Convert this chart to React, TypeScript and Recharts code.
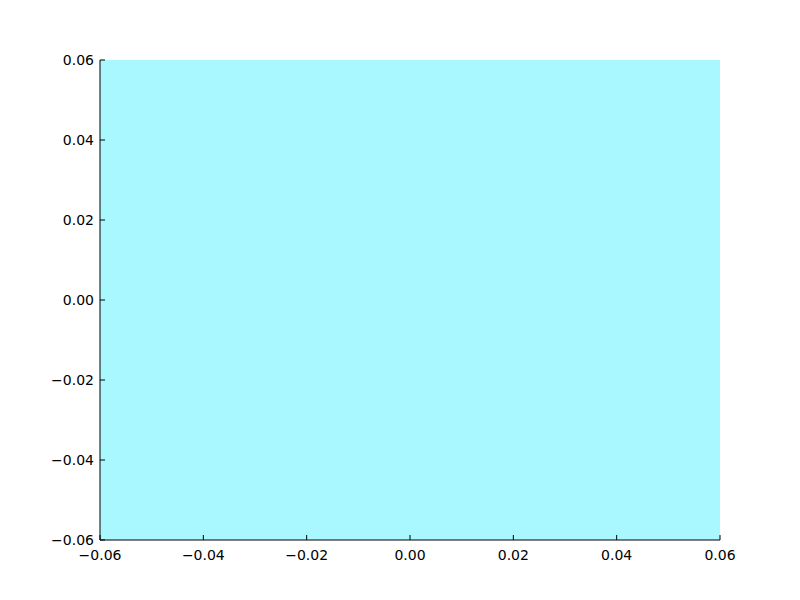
import React from "react";
import {
  ScatterChart,
  Scatter,
  XAxis,
  YAxis,
  ReferenceArea,
} from "recharts";

const xTicks = [-0.06, -0.04, -0.02, 0, 0.02, 0.04, 0.06];
const yTicks = [-0.06, -0.04, -0.02, 0, 0.02, 0.04, 0.06];
const xDomain = [-0.06, 0.06];
const yDomain = [-0.06, 0.06];
const points: { x: number; y: number }[] = [];

const fmt = (v: number) => v.toFixed(2).replace("-", "\u2212");
const font = "DejaVu Sans";

const BottomTick = (p: any) => (
  <g>
    <line x1={p.x} y1={p.y} x2={p.x} y2={p.y - 5} stroke="#000" />
    <text x={p.x} y={p.y + 20} textAnchor="middle" fontFamily={font} fontSize={14} fill="#000">
      {fmt(p.payload.value)}
    </text>
  </g>
);
const LeftTick = (p: any) => (
  <g>
    <line x1={p.x} y1={p.y} x2={p.x + 5} y2={p.y} stroke="#000" />
    <text x={p.x - 6} y={p.y + 5} textAnchor="end" fontFamily={font} fontSize={14} fill="#000">
      {fmt(p.payload.value)}
    </text>
  </g>
);
const TopTick = (p: any) => <line x1={p.x} y1={p.y} x2={p.x} y2={p.y + 5} stroke="#000" />;
const RightTick = (p: any) => <line x1={p.x} y1={p.y} x2={p.x - 5} y2={p.y} stroke="#000" />;

export default function App() {
  return (
    <div style={{ position: "absolute", left: 0, top: 0, background: "#fff" }}>
      <ScatterChart width={800} height={600} margin={{ top: 60, right: 80, bottom: 30, left: 40 }}>
        <XAxis xAxisId="b" type="number" dataKey="x" domain={xDomain} ticks={xTicks} height={30}
          tickSize={0} tickMargin={0} tickLine={false} tick={<BottomTick />} stroke="#000" allowDataOverflow />
        <XAxis xAxisId="t" type="number" orientation="top" dataKey="x" domain={xDomain} ticks={xTicks} height={0}
          tickSize={0} tickMargin={0} tickLine={false} tick={<TopTick />} stroke="#000" allowDataOverflow />
        <YAxis yAxisId="l" type="number" dataKey="y" domain={yDomain} ticks={yTicks} width={60}
          tickSize={0} tickMargin={0} tickLine={false} tick={<LeftTick />} stroke="#000" allowDataOverflow />
        <YAxis yAxisId="r" type="number" orientation="right" dataKey="y" domain={yDomain} ticks={yTicks} width={0}
          tickSize={0} tickMargin={0} tickLine={false} tick={<RightTick />} stroke="#000" allowDataOverflow />
        <ReferenceArea xAxisId="b" yAxisId="l" x1={xDomain[0]} x2={xDomain[1]} y1={yDomain[0]} y2={yDomain[1]}
          fill="#aaf8ff" fillOpacity={1} stroke="none" />
        <Scatter xAxisId="b" yAxisId="l" data={points} isAnimationActive={false} />
      </ScatterChart>
    </div>
  );
}
